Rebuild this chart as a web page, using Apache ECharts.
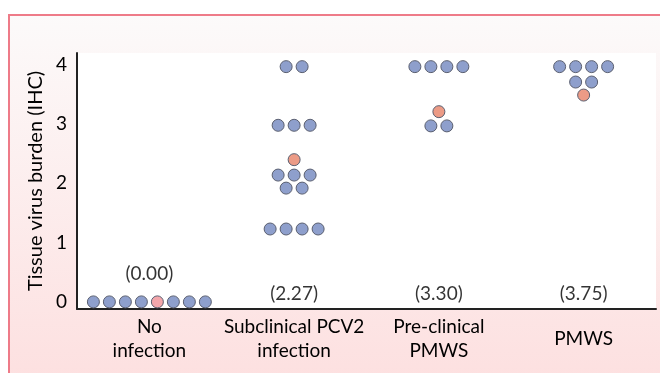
<!DOCTYPE html>
<html>
<head>
<meta charset="utf-8">
<script src="https://cdn.jsdelivr.net/npm/echarts@6/dist/echarts.min.js"></script>
<style>html,body{margin:0;padding:0;background:#fff;}#c{width:660px;height:373px;}</style>
</head>
<body>
<div id="c"></div>
<script>
// ---- data ----
const categories = ['No\ninfection', 'Subclinical PCV2\ninfection', 'Pre-clinical\nPMWS', 'PMWS'];
const meanLabels = ['(0.00)', '(2.27)', '(3.30)', '(3.75)'];
const yTicks = [0, 1, 2, 3, 4];
// rows of dots: [value, pattern]  B = blue animal, P = pink, S = salmon
const noInfectionRows = [[0, 'BBBBPBBB']];
const subclinicalRows = [[3.97, 'BB'], [2.98, 'BBB'], [2.40, 'S'], [2.14, 'BBB'], [1.92, 'BB'], [1.23, 'BBBB']];
const preclinicalRows = [[3.97, 'BBBB'], [3.21, 'S'], [2.97, 'BB']];
const pmwsRows = [[3.97, 'BBBB'], [3.71, 'BB'], [3.49, 'S']];

const groups = [noInfectionRows, subclinicalRows, preclinicalRows, pmwsRows];
const SPACING = 0.1105; // horizontal spacing between dots in a row (category units)
const colors = { B: '#8e9fcc', P: '#f3a6ab', S: '#ec9b86' };
const dataByType = { B: [], P: [], S: [] };
groups.forEach((rows, ci) => {
  rows.forEach(([v, pat]) => {
    const n = pat.length;
    for (let j = 0; j < n; j++) {
      dataByType[pat[j]].push([ci + (j - (n - 1) / 2) * SPACING, v]);
    }
  });
});

const FONT = 'Lato';
const TXT = '#000000';
const chart = echarts.init(document.getElementById('c'), null, { renderer: 'canvas' });
chart.setOption({
  animation: false,
  backgroundColor: '#ffffff',
  graphic: [{
    type: 'rect', z: -100, silent: true,
    shape: { x: 9, y: 15, width: 700, height: 420 },
    style: {
      fill: new echarts.graphic.LinearGradient(0, 0, 0, 1, [
        { offset: 0, color: '#fcfafa' },
        { offset: 0.9, color: '#fddfdf' },
        { offset: 1, color: '#fddfdf' }
      ]),
      stroke: '#ee7b88', lineWidth: 2
    }
  }],
  grid: { left: 77, right: 4, top: 53, bottom: 64, show: true, backgroundColor: '#ffffff', borderWidth: 0 },
  xAxis: {
    type: 'value', min: -0.5, max: 3.5,
    splitLine: { show: false }, axisTick: { show: false },
    axisLine: { show: true, onZero: false, lineStyle: { color: '#222', width: 2 } },
    axisLabel: {
      customValues: [0, 1, 2, 3],
      formatter: v => categories[Math.round(v)],
      fontFamily: FONT, fontSize: 19, color: TXT, lineHeight: 24,
      verticalAlign: 'middle', margin: 30
    }
  },
  yAxis: {
    type: 'value', min: -0.12, max: 4.2,
    splitLine: { show: false }, axisTick: { show: false },
    axisLine: { show: true, onZero: false, lineStyle: { color: '#222', width: 2 } },
    axisLabel: { customValues: yTicks, fontFamily: FONT, fontSize: 19, color: TXT, margin: 10 },
    name: 'Tissue virus burden (IHC)', nameLocation: 'middle', nameRotate: 90, nameGap: 24,
    nameTextStyle: { fontFamily: FONT, fontSize: 20, color: TXT }
  },
  series: [
    ...['B', 'P', 'S'].map(t => ({
      type: 'scatter', data: dataByType[t], symbol: 'circle', symbolSize: 12,
      itemStyle: { color: colors[t], borderColor: '#5a5f70', borderWidth: 1, opacity: 1 },
      z: 3
    })),
    {
      type: 'scatter', symbolSize: 0, silent: true,
      data: meanLabels.map((m, i) => ({
        value: [i, 0],
        label: { distance: i === 0 ? 19 : -1 }
      })),
      label: {
        show: true, position: 'top',
        formatter: p => meanLabels[p.dataIndex],
        fontFamily: FONT, fontSize: 19, color: TXT
      }
    }
  ]
});
</script>
</body>
</html>
